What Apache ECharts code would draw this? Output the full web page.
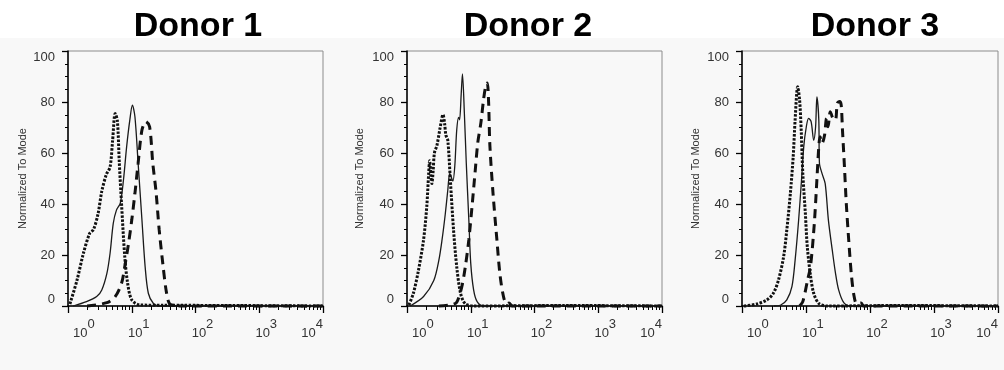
<!DOCTYPE html>
<html>
<head>
<meta charset="utf-8">
<script src="https://cdn.jsdelivr.net/npm/echarts@6/dist/echarts.min.js"></script>
<style>
  html, body { margin: 0; padding: 0; background: #f8f8f8; }
  #chart { width: 1004px; height: 370px; }
</style>
</head>
<body>
<div id="chart"></div>
<script>
// flow histograms, x = log10 of intensity (decades), y = % of mode
var donor1Solid = [[0.08,0],[0.29,1.7],[0.45,3.7],[0.53,6.3],[0.61,12.8],[0.66,20.7],[0.71,32.4],[0.76,37.6],[0.82,40.3],[0.87,49.4],[0.92,62.5],[0.97,73],[1.01,78.8],[1.05,74.2],[1.10,56],[1.16,33.7],[1.21,15.4],[1.26,5],[1.34,1],[1.44,0],[2.5,0.2],[4,0]];
var donor1Dotted = [[0.03,0.8],[0.14,10],[0.24,20.5],[0.34,28.5],[0.40,30],[0.47,36],[0.53,45],[0.60,51.5],[0.66,54.5],[0.70,65],[0.74,75.5],[0.775,72.5],[0.805,56],[0.84,40],[0.89,19.5],[0.935,9],[1.0,2.4],[1.13,0.4],[1.5,0.3],[2.5,0.2],[4,0]];
var donor1Dashed = [[0.3,0],[0.61,1.3],[0.74,3.7],[0.84,8.9],[0.89,15.4],[0.95,24.6],[1.0,33.7],[1.05,44.2],[1.10,56],[1.16,69],[1.22,72.3],[1.28,70.3],[1.33,56],[1.38,45],[1.43,30],[1.49,16],[1.54,6],[1.59,1],[1.68,0.2],[1.7,1],[1.75,0],[4,0]];

var donor2Solid = [[0.05,0],[0.26,3.7],[0.42,10],[0.50,18],[0.55,26],[0.60,36],[0.64,45.5],[0.67,52],[0.695,50.5],[0.72,49],[0.75,55],[0.78,69],[0.81,74],[0.825,73],[0.85,83],[0.87,91],[0.90,75.5],[0.93,56],[0.97,33.7],[1.0,16.7],[1.045,6.3],[1.10,1.7],[1.2,0],[2.5,0.2],[4,0]];
var donor2Dotted = [[0.03,0.4],[0.10,5],[0.18,14],[0.26,26],[0.31,39],[0.34,52],[0.355,57],[0.375,51],[0.39,48],[0.41,53],[0.43,60],[0.47,63],[0.52,70],[0.565,75],[0.59,71.5],[0.61,67],[0.64,65],[0.68,49.4],[0.73,29.8],[0.78,15.4],[0.84,5],[0.91,1],[1.05,0],[2.5,0.2],[4,0]];
var donor2Dashed = [[0.5,0],[0.7,0.5],[0.78,1.5],[0.86,7.6],[0.915,15.4],[0.97,26],[1.02,39],[1.07,53],[1.11,64],[1.16,72],[1.20,80.8],[1.24,87],[1.26,87.5],[1.28,80],[1.30,63],[1.35,44],[1.41,26],[1.46,12],[1.52,3],[1.57,0.8],[1.6,1.2],[1.65,0],[4,0]];

var donor3Solid = [[0.5,0],[0.60,0.3],[0.70,2.4],[0.78,7.6],[0.83,18],[0.885,33.7],[0.93,49.4],[0.965,62.5],[1.005,70.3],[1.04,73.6],[1.08,72.3],[1.12,65],[1.15,70.3],[1.17,82],[1.20,73],[1.21,56],[1.25,52],[1.30,48],[1.35,33.7],[1.41,22],[1.46,13],[1.51,6.3],[1.59,1.3],[1.69,0],[2.5,0.2],[4,0]];
var donor3Dotted = [[0.03,0],[0.23,0.8],[0.39,2.4],[0.49,5],[0.57,10.2],[0.65,19.3],[0.70,29.8],[0.755,44],[0.80,58.6],[0.83,73],[0.87,86],[0.90,80.8],[0.925,69],[0.95,52],[0.99,36.3],[1.02,23.3],[1.07,12],[1.12,5],[1.20,1],[1.33,0],[2.5,0.2],[4,0]];
var donor3Dashed = [[0.9,0],[0.95,1.7],[1.025,10.2],[1.07,15.4],[1.13,32.4],[1.17,49.4],[1.20,62.5],[1.22,66.4],[1.25,63.8],[1.29,67],[1.32,73.6],[1.345,70.3],[1.38,76.2],[1.42,73.6],[1.46,73],[1.49,79.5],[1.525,80.2],[1.55,78.8],[1.57,69],[1.60,55],[1.63,40],[1.67,25],[1.71,12],[1.75,4],[1.79,1],[1.86,1.2],[1.9,0],[4,0]];

var titles = ['Donor 1', 'Donor 2', 'Donor 3'];
var xExponents = ['0', '1', '2', '3', '4'];
var yTicks = [0, 20, 40, 60, 80, 100];

var traces = [
  [donor1Solid, donor1Dotted, donor1Dashed],
  [donor2Solid, donor2Dotted, donor2Dashed],
  [donor3Solid, donor3Dotted, donor3Dashed]
];

var panels = [
  { left: 68, width: 255, titleX: 193, nameGap: 40 },
  { left: 407, width: 255, titleX: 523, nameGap: 42 },
  { left: 742, width: 256, titleX: 870, nameGap: 41 }
];

var lineStyles = [
  { color: '#1a1a1a', width: 1.3, type: 'solid' },
  { color: '#111', width: 3, type: [2.5, 1.5] },
  { color: '#111', width: 3, type: [9, 6] }
];

// log minor ticks: 2..9 inside each decade
var minorTicks = [];
for (var dec = 0; dec < xExponents.length - 1; dec++) {
  for (var k = 2; k <= 9; k++) minorTicks.push(dec + Math.log10(k));
}

var font = 'Liberation Sans, Arial, sans-serif';
var option = {
  backgroundColor: '#f8f8f8',
  animation: false,
  title: [], grid: [], xAxis: [], yAxis: [], series: [],
  graphic: [{ type: 'rect', shape: { x: 0, y: 0, width: 1004, height: 38 }, style: { fill: '#ffffff' }, z: 0 }]
};

panels.forEach(function (p, i) {
  option.title.push({
    text: titles[i], left: p.titleX, top: 5, textAlign: 'center',
    textStyle: { fontFamily: font, fontSize: 34, fontWeight: 'bold', color: '#000' }
  });
  option.grid.push({
    left: p.left, top: 51, width: p.width, height: 255,
    show: true, borderColor: '#8c8c8c', borderWidth: 1, backgroundColor: 'transparent',
    outerBoundsMode: 'none'
  });
  option.xAxis.push({
    type: 'value', gridIndex: i, position: 'bottom', min: 0, max: xExponents.length - 1, interval: 1,
    axisLine: { show: true, lineStyle: { color: '#000', width: 1.5 } },
    axisTick: { show: true, length: 7, lineStyle: { color: '#000', width: 1.3 } },
    splitLine: { show: false },
    axisLabel: {
      margin: 12, alignMinLabel: 'left', alignMaxLabel: 'right',
      formatter: function (v) {
        return (v === 0 ? '{a|10}' : '{b|10}') + '{s|' + xExponents[v] + '}';
      },
      rich: {
        a: { fontFamily: font, fontSize: 13, color: '#333', verticalAlign: 'bottom', padding: [0, 0, 0, 5] },
        b: { fontFamily: font, fontSize: 13, color: '#333', verticalAlign: 'bottom', padding: [0, 0, 0, 14] },
        s: { fontFamily: font, fontSize: 13, color: '#333', padding: [0, 0, 9, 0] }
      }
    }
  });
  option.xAxis.push({
    type: 'value', gridIndex: i, position: 'bottom', min: 0, max: xExponents.length - 1,
    axisLine: { show: false },
    axisTick: { show: true, customValues: minorTicks, length: 4, lineStyle: { color: '#000', width: 1 } },
    axisLabel: { show: false },
    splitLine: { show: false }
  });
  option.yAxis.push({
    type: 'value', gridIndex: i, min: yTicks[0], max: yTicks[yTicks.length - 1], interval: yTicks[1] - yTicks[0],
    name: 'Normalized To Mode', nameLocation: 'middle', nameGap: p.nameGap,
    nameTextStyle: { fontFamily: font, fontSize: 11, color: '#333' },
    axisLine: { show: true, lineStyle: { color: '#000', width: 1.5 } },
    axisTick: { show: true, length: 6, lineStyle: { color: '#000', width: 1.3 } },
    minorTick: { show: true, splitNumber: 4, length: 3, lineStyle: { color: '#000', width: 1 } },
    splitLine: { show: false },
    minorSplitLine: { show: false },
    axisLabel: {
      fontFamily: font, fontSize: 13, color: '#333', margin: 13,
      verticalAlignMaxLabel: 'top', verticalAlignMinLabel: 'bottom'
    }
  });
  traces[i].forEach(function (data, j) {
    option.series.push({
      type: 'line', xAxisIndex: i * 2, yAxisIndex: i, data: data,
      showSymbol: false, symbol: 'none', smooth: 0.3, clip: false,
      lineStyle: lineStyles[j]
    });
  });
});

var chart = echarts.init(document.getElementById('chart'));
chart.setOption(option);
window.addEventListener('resize', function () { chart.resize(); });
</script>
</body>
</html>
